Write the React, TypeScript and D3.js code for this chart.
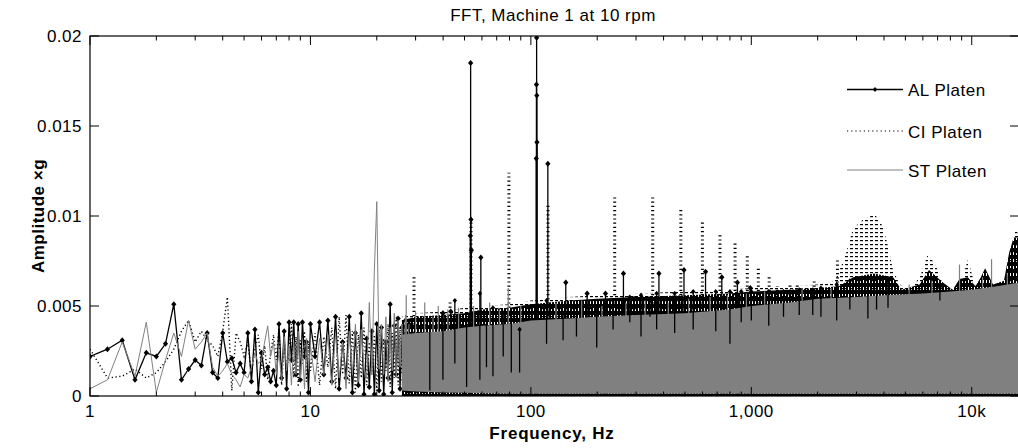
import React from 'react';
import * as d3 from 'd3';

// ---------- axis ticks ----------
const xTickValues = [1, 10, 100, 1000, 10000];
const xTickLabels = ['1', '10', '100', '1,000', '10k'];
const yTickValues = [0, 0.005, 0.01, 0.015, 0.02];
const yTickLabels = ['0', '0.005', '0.01', '0.015', '0.02'];

const seriesNames = ['AL Platen', 'CI Platen', 'ST Platen'];

// ---------- low-frequency traces (1 - 28 Hz) ----------
const traceFreq = [
  1.0, 1.2, 1.4, 1.6, 1.8, 2.0, 2.2, 2.4, 2.6, 2.8, 3.0, 3.2, 3.4, 3.6, 3.8, 4.0, 4.2, 4.4, 4.6, 4.8, 5.0,
  5.2, 5.4, 5.6, 5.8, 6.0, 6.2, 6.4, 6.6, 6.8, 7.0, 7.2, 7.4, 7.6, 7.8, 8.0, 8.2, 8.4, 8.6, 8.8, 9.0, 9.2, 9.4, 9.6, 9.8, 10.0,
  10.5, 11.0, 11.5, 12.0, 12.5, 13.0, 13.5, 14.0, 14.5, 15.0, 15.5, 16.0, 16.5, 17.0, 17.5, 18.0, 18.5, 19.0, 19.5, 20.0,
  20.5, 21.0, 21.5, 22.0, 22.5, 23.0, 23.5, 24.0, 24.5, 25.0, 25.5, 26.0, 26.5, 27.0, 27.5, 28.0,
];
const alTrace = [
  0.0022, 0.0026, 0.0031, 0.0009, 0.0024, 0.0022, 0.0029, 0.0051, 0.0009, 0.0015, 0.0020, 0.0017, 0.0035, 0.0013, 0.0010, 0.0035, 0.0019, 0.0021, 0.0013, 0.0018, 0.0013,
  0.0035, 0.0008, 0.0037, 0.0002, 0.0024, 0.0012, 0.0016, 0.0008, 0.0014, 0.0006, 0.0040, 0.0010, 0.0036, 0.0004, 0.0041, 0.0020, 0.0041, 0.0012, 0.0040, 0.0009, 0.0041, 0.0022, 0.0030, 0.0002, 0.0040,
  0.0022, 0.0041, 0.0012, 0.0042, 0.0008, 0.0044, 0.0004, 0.0030, 0.0010, 0.0044, 0.0002, 0.0035, 0.0006, 0.0046, 0.0001, 0.0032, 0.0005, 0.0036, 0.0001, 0.0040,
  0.0003, 0.0038, 0.0001, 0.0030, 0.0010, 0.0051, 0.0002, 0.0039, 0.0012, 0.0043, 0.0004, 0.0038, 0.0009, 0.0042, 0.0003, 0.0040,
];
const ciTrace = [
  0.0026, 0.0010, 0.0011, 0.0015, 0.0010, 0.0013, 0.0019, 0.0026, 0.0036, 0.0042, 0.0030, 0.0036, 0.0031, 0.0028, 0.0022, 0.0036, 0.0055, 0.0003, 0.0035, 0.0030, 0.0022,
  0.0030, 0.0012, 0.0026, 0.0034, 0.0015, 0.0028, 0.0009, 0.0024, 0.0034, 0.0020, 0.0038, 0.0006, 0.0030, 0.0015, 0.0024, 0.0040, 0.0010, 0.0033, 0.0005, 0.0031, 0.0018, 0.0036, 0.0008, 0.0029, 0.0014,
  0.0035, 0.0006, 0.0033, 0.0016, 0.0038, 0.0004, 0.0044, 0.0012, 0.0045, 0.0007, 0.0036, 0.0002, 0.0034, 0.0010, 0.0038, 0.0006, 0.0030, 0.0012, 0.0034, 0.0003,
  0.0037, 0.0008, 0.0032, 0.0014, 0.0040, 0.0005, 0.0035, 0.0010, 0.0044, 0.0006, 0.0038, 0.0012, 0.0040, 0.0004, 0.0043, 0.0015,
];
const stTrace = [
  0.0004, 0.0009, 0.0030, 0.0011, 0.0041, 0.0002, 0.0020, 0.0035, 0.0022, 0.0042, 0.0026, 0.0030, 0.0035, 0.0016, 0.0011, 0.0014, 0.0018, 0.0012, 0.0009, 0.0005, 0.0012,
  0.0010, 0.0016, 0.0024, 0.0018, 0.0020, 0.0030, 0.0039, 0.0022, 0.0030, 0.0012, 0.0025, 0.0008, 0.0033, 0.0014, 0.0028, 0.0006, 0.0030, 0.0012, 0.0036, 0.0010, 0.0026, 0.0004, 0.0032, 0.0015, 0.0028,
  0.0008, 0.0032, 0.0012, 0.0034, 0.0006, 0.0035, 0.0010, 0.0030, 0.0004, 0.0036, 0.0012, 0.0040, 0.0008, 0.0037, 0.0015, 0.0010, 0.0052, 0.0012, 0.0070, 0.0108,
  0.0015, 0.0040, 0.0012, 0.0044, 0.0008, 0.0038, 0.0014, 0.0046, 0.0010, 0.0042, 0.0016, 0.0040, 0.0012, 0.0045, 0.0018, 0.0040,
];

// ---------- dense region envelopes (26 Hz - 16 kHz) ----------
const alBandFreq = [26, 30, 40, 50, 60, 80, 100, 150, 200, 300, 500, 800, 1000, 1500, 2000, 2500, 2900, 3600, 4400, 4800, 5800, 6400, 7400, 8200, 8800, 9600, 10400, 11000, 11500, 12500, 14000, 14800, 15500, 16384];
const alBandMax = [0.0042, 0.0044, 0.0045, 0.0046, 0.0048, 0.0049, 0.0051, 0.0053, 0.0054, 0.0055, 0.0056, 0.0057, 0.0058, 0.0059, 0.0060, 0.0061, 0.0066, 0.0068, 0.0066, 0.0059, 0.0062, 0.0070, 0.0063, 0.0059, 0.0065, 0.0066, 0.0061, 0.0066, 0.0071, 0.0062, 0.0064, 0.0080, 0.0088, 0.0088];

const ciBandFreq = [26, 30, 40, 50, 60, 80, 100, 150, 200, 300, 500, 800, 1000, 1500, 2000, 2300, 2434, 2654, 2896, 3216, 3633, 3962, 4172, 4395, 4712, 5300, 5808, 6339, 6900, 7396, 8200, 8900, 9620, 10300, 11000, 13000, 14300, 15000, 15700, 16384];
const ciBandMax = [0.0044, 0.0046, 0.0047, 0.0049, 0.0050, 0.0051, 0.0053, 0.0055, 0.0056, 0.0057, 0.0058, 0.0059, 0.0060, 0.0061, 0.0062, 0.0063, 0.0066, 0.0077, 0.0093, 0.0098, 0.0101, 0.0094, 0.0083, 0.0070, 0.0062, 0.0060, 0.0066, 0.0079, 0.0072, 0.0062, 0.0059, 0.0062, 0.0076, 0.0062, 0.0060, 0.0060, 0.0062, 0.0080, 0.0092, 0.0090];

const stBandFreq = [26, 30, 40, 50, 60, 80, 100, 150, 200, 300, 500, 800, 1000, 1500, 2000, 3000, 4000, 6000, 8000, 10000, 13000, 16384];
const stBandMax = [0.0034, 0.0035, 0.0036, 0.0038, 0.0039, 0.0040, 0.0042, 0.0043, 0.0044, 0.0045, 0.0046, 0.0048, 0.0050, 0.0052, 0.0054, 0.0055, 0.0056, 0.0057, 0.0058, 0.0059, 0.0061, 0.0063];
const stBandMin = [0.0003, 0.00025, 0.0002, 0.00018, 0.00015, 0.00013, 0.00012, 0.00012, 0.00012, 0.00012, 0.00012, 0.00012, 0.00012, 0.00012, 0.00012, 0.00012, 0.00012, 0.00012, 0.00012, 0.00012, 0.00012, 0.00012];

// ---------- individual peaks ----------
const alSpikeFreq = [34.8, 39.9, 43.3, 53.1, 53.3, 53.5, 53.7, 59.3, 105.8, 106.0, 106.2, 106.4, 106.6, 119.4, 144, 180, 218, 263, 294, 381, 495, 620, 735, 865, 990];
const alSpikeAmp = [0.0042, 0.0046, 0.0047, 0.0089, 0.0185, 0.0098, 0.0081, 0.0077, 0.0132, 0.0173, 0.0199, 0.0167, 0.0141, 0.0129, 0.0063, 0.0057, 0.0057, 0.0068, 0.0054, 0.0068, 0.0070, 0.0069, 0.0066, 0.0063, 0.0060];

const ciSpikeFreq = [29.5, 43, 53.5, 79.5, 119.6, 240, 357, 479, 600, 721, 844, 959, 1076, 1205, 1313, 1498, 1616, 1929, 2459];
const ciSpikeAmp = [0.0067, 0.0052, 0.0097, 0.0124, 0.0107, 0.0112, 0.0112, 0.0105, 0.0097, 0.0090, 0.0085, 0.0078, 0.0072, 0.0066, 0.0061, 0.0062, 0.0062, 0.0065, 0.0077];

const stSpikeFreq = [27.2, 30, 33, 36, 38, 42, 47, 55, 65, 72, 79, 90, 130, 170, 210, 270, 330, 420, 520, 650, 780, 950, 1150, 1700, 2300, 5200, 6600, 8800, 11200, 12300, 14500];
const stSpikeAmp = [0.0056, 0.0047, 0.0052, 0.0044, 0.0050, 0.0048, 0.0049, 0.0050, 0.0052, 0.0048, 0.0060, 0.0050, 0.0052, 0.0053, 0.0050, 0.0052, 0.0053, 0.0052, 0.0054, 0.0055, 0.0056, 0.0057, 0.0058, 0.0060, 0.0060, 0.0062, 0.0064, 0.0073, 0.0066, 0.0076, 0.0068];

// AL excursions that show through the grey mass: [freq, top, bottom]
const alDropFreq = [34.8, 39.9, 45.2, 51.1, 58.7, 62.9, 67.3, 74.9, 81.5, 88.9, 117.8, 140, 161, 199, 236, 281, 316, 347, 372, 449, 545, 690, 800, 900, 1000, 1200, 1400, 1650, 1900, 2070, 2440, 2800, 3380, 3700, 4170, 7170];
const alDropTop = [0.0042, 0.0046, 0.0053, 0.0042, 0.0057, 0.0046, 0.0049, 0.0046, 0.0042, 0.0037, 0.0053, 0.0046, 0.0046, 0.0048, 0.0053, 0.0055, 0.0056, 0.0053, 0.0057, 0.0057, 0.0058, 0.0058, 0.0058, 0.0058, 0.0058, 0.0058, 0.0058, 0.0059, 0.0059, 0.0060, 0.0062, 0.0064, 0.0066, 0.0066, 0.0064, 0.0060];
const alDropBottom = [0.0003, 0.0009, 0.0018, 0.0005, 0.0009, 0.0016, 0.0011, 0.0022, 0.0013, 0.0013, 0.0029, 0.0031, 0.0033, 0.0027, 0.0037, 0.0041, 0.0033, 0.0044, 0.0037, 0.0035, 0.0037, 0.0036, 0.0029, 0.0041, 0.0042, 0.0039, 0.0044, 0.0045, 0.0045, 0.0044, 0.0042, 0.0048, 0.0043, 0.0048, 0.0049, 0.0053];

const FONT = '"Liberation Sans", Arial, sans-serif';
const GREY = '#808080';

const diamond = (cx: number, cy: number, r = 2.6) =>
  `M${cx},${cy - r - 0.4}L${cx + r},${cy}L${cx},${cy + r + 0.4}L${cx - r},${cy}Z`;

export default function App() {
  const x = d3.scaleLog().domain([1, 16384]).range([90, 1019]);
  const y = d3.scaleLinear().domain([0, 0.02]).range([396, 36]);

  const line = d3.line<[number, number]>().x((d) => x(d[0])).y((d) => y(d[1]));
  const zip = (f: number[], a: number[]) => f.map((v, i) => [v, a[i]] as [number, number]);

  const area = d3
    .area<{ f: number; lo: number; hi: number }>()
    .x((d) => x(d.f))
    .y0((d) => y(d.lo))
    .y1((d) => y(d.hi));

  const alBand = area(alBandFreq.map((f, i) => ({ f, lo: 0, hi: alBandMax[i] })));
  const ciBand = area(ciBandFreq.map((f, i) => ({ f, lo: 0, hi: ciBandMax[i] })));
  const stBand = area(stBandFreq.map((f, i) => ({ f, lo: stBandMin[i], hi: stBandMax[i] })));

  const minorTicks: number[] = [];
  for (let dec = 1; dec <= 10000; dec *= 10) {
    for (let k = 2; k <= 9; k++) {
      const v = dec * k;
      if (v <= 16384) minorTicks.push(v);
    }
  }

  const [x0, x1] = x.range();
  const [yb, yt] = y.range();

  return (
    <svg
      width={1018}
      height={448}
      style={{ position: 'absolute', left: 0, top: 0, background: '#fff' }}
      fontFamily={FONT}
    >
      <defs>
        <clipPath id="plotClip">
          <rect x={x0} y={yt} width={x1 - x0} height={yb - yt} />
        </clipPath>
        <pattern id="ciPat" width="5" height="4" patternUnits="userSpaceOnUse">
          <rect x="0" y="0" width="3" height="1.2" fill="#000" />
        </pattern>
        <pattern id="alPat" width="3" height="7" patternUnits="userSpaceOnUse">
          <rect x="0" y="0" width="2" height="7" fill="#000" />
          <rect x="2" y="3" width="1" height="4" fill="#000" />
        </pattern>
      </defs>

      <rect x={0} y={0} width={1018} height={448} fill="#fff" />

      <g clipPath="url(#plotClip)">
        {/* AL Platen */}
        <path d={alBand || ''} fill="url(#alPat)" />
        {alSpikeFreq.map((f, i) => (
          <line key={'als' + i} x1={x(f)} x2={x(f)} y1={y(0)} y2={y(alSpikeAmp[i])} stroke="#000" strokeWidth={1.3} />
        ))}
        {alSpikeFreq.map((f, i) => (
          <path key={'alm' + i} d={diamond(x(f), y(alSpikeAmp[i]))} fill="#000" />
        ))}
        <path d={line(zip(traceFreq, alTrace)) || ''} fill="none" stroke="#000" strokeWidth={1.3} />
        {traceFreq.map((f, i) => (
          <path key={'altm' + i} d={diamond(x(f), y(alTrace[i]))} fill="#000" />
        ))}

        {/* CI Platen */}
        <path d={ciBand || ''} fill="url(#ciPat)" />
        {ciSpikeFreq.map((f, i) => (
          <line key={'cis' + i} x1={x(f)} x2={x(f)} y1={y(0)} y2={y(ciSpikeAmp[i])} stroke="#000" strokeWidth={3} strokeDasharray="1.2,3" />
        ))}
        <path d={line(zip(traceFreq, ciTrace)) || ''} fill="none" stroke="#000" strokeWidth={1.4} strokeDasharray="1.2,2.6" />

        {/* ST Platen */}
        <path d={line(zip(traceFreq, stTrace)) || ''} fill="none" stroke={GREY} strokeWidth={1} />
        {stSpikeFreq.map((f, i) => (
          <line key={'sts' + i} x1={x(f)} x2={x(f)} y1={y(0.001)} y2={y(stSpikeAmp[i])} stroke={GREY} strokeWidth={1.2} />
        ))}
        <path d={stBand || ''} fill={GREY} />

        {/* AL excursions visible through the grey */}
        {alDropFreq.map((f, i) => (
          <line key={'ald' + i} x1={x(f)} x2={x(f)} y1={y(alDropTop[i])} y2={y(alDropBottom[i])} stroke="#000" strokeWidth={1.3} />
        ))}
        {alDropFreq.map((f, i) => (
          <path key={'aldm' + i} d={diamond(x(f), y(alDropTop[i]), 2.2)} fill="#000" />
        ))}
        <line x1={x(26)} x2={x1} y1={y(0.00006)} y2={y(0.00006)} stroke="#000" strokeWidth={2} />
      </g>

      {/* axes box */}
      <rect x={x0} y={yt} width={x1 - x0} height={yb - yt} fill="none" stroke="#000" strokeWidth={1.2} />

      {/* x ticks */}
      {xTickValues.map((v) => (
        <g key={'xt' + v}>
          <line x1={x(v)} x2={x(v)} y1={yb} y2={yb - 9} stroke="#000" />
          <line x1={x(v)} x2={x(v)} y1={yt} y2={yt + 9} stroke="#000" />
        </g>
      ))}
      {minorTicks.map((v) => (
        <g key={'xm' + v}>
          <line x1={x(v)} x2={x(v)} y1={yb} y2={yb - 4.5} stroke="#000" />
          <line x1={x(v)} x2={x(v)} y1={yt} y2={yt + 4.5} stroke="#000" />
        </g>
      ))}
      {xTickValues.map((v, i) => (
        <text key={'xl' + v} x={x(v)} y={417} textAnchor="middle" fontSize={17} letterSpacing={0.5} fill="#000">
          {xTickLabels[i]}
        </text>
      ))}

      {/* y ticks */}
      {yTickValues.map((v, i) => (
        <g key={'yt' + v}>
          <line x1={x0} x2={x0 + 9} y1={y(v)} y2={y(v)} stroke="#000" />
          <line x1={x1} x2={x1 - 9} y1={y(v)} y2={y(v)} stroke="#000" />
          <text x={82} y={y(v) + 6} textAnchor="end" fontSize={17} letterSpacing={0.5} fill="#000">
            {yTickLabels[i]}
          </text>
        </g>
      ))}

      {/* titles */}
      <text x={553} y={21} textAnchor="middle" fontSize={17} letterSpacing={0.5} fill="#000">
        FFT, Machine 1 at 10 rpm
      </text>
      <text x={552} y={439} textAnchor="middle" fontSize={17} fontWeight="bold" letterSpacing={0.8} fill="#000">
        Frequency, Hz
      </text>
      <text
        transform="translate(44,216) rotate(-90)"
        textAnchor="middle"
        fontSize={17}
        fontWeight="bold"
        letterSpacing={0.5}
        fill="#000"
      >
        Amplitude ×g
      </text>

      {/* legend */}
      <g>
        <line x1={847} x2={903} y1={89.5} y2={89.5} stroke="#000" strokeWidth={1.3} />
        <path d={diamond(875, 89.5, 2.2)} fill="#000" />
        <text x={908} y={96} fontSize={17} letterSpacing={0.5} fill="#000">{seriesNames[0]}</text>
        <line x1={847} x2={905} y1={131} y2={131} stroke="#000" strokeWidth={1.2} strokeDasharray="1.2,3" />
        <text x={908} y={137.5} fontSize={17} letterSpacing={0.5} fill="#000">{seriesNames[1]}</text>
        <line x1={847} x2={903} y1={170} y2={170} stroke={GREY} strokeWidth={1} />
        <text x={908} y={176.5} fontSize={17} letterSpacing={0.5} fill="#000">{seriesNames[2]}</text>
      </g>
    </svg>
  );
}
